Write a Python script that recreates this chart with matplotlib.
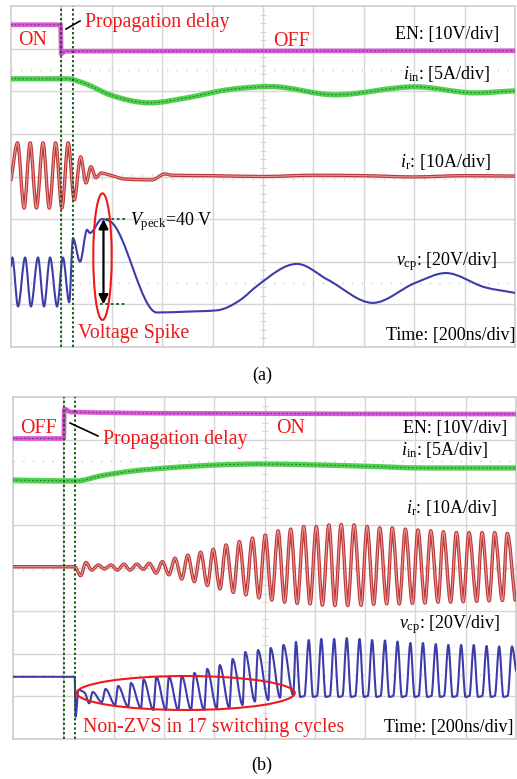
import numpy as np
import matplotlib
matplotlib.use("Agg")
import matplotlib.pyplot as plt
from matplotlib.path import Path
from matplotlib.patches import PathPatch, Ellipse, FancyArrowPatch

plt.rcParams["font.family"] = ["Liberation Serif", "DejaVu Serif"]
plt.rcParams["mathtext.fontset"] = "custom"
plt.rcParams["mathtext.rm"] = "Liberation Serif"
plt.rcParams["mathtext.it"] = "Liberation Serif:italic"

# ---------------------------------------------------------------- channels
# scope settings: volts/amps per division and zero position (divisions)
EN_SCALE, EN_ZERO = 10.0, 7.0
IIN_SCALE, IIN_ZERO = 5.0, 6.0
IR_SCALE, IR_ZERO = 10.0, 4.0
VCP_SCALE, VCP_ZERO = 20.0, 1.0
TIME_PER_DIV = 200.0  # ns

# ---------------------------------------------------------------- (a) ON -> OFF
en_a_t = [0, 197, 199, 215, 2000]
en_a_v = [5.6, 5.6, -1.2, -0.6, -0.5]

iin_a_t = [0, 222, 286, 393, 552, 698, 857, 1030, 1286, 1603, 1841, 2000]
iin_a_v = [1.46, 1.46, 0.99, -0.42, -1.36, -0.77, 0.16, 0.55, -0.42, 0.52, -0.19, 0.05]

ir_a_t = [0, 26, 52, 76, 101, 127, 152, 177, 202, 227, 251, 276, 298, 317, 337, 357,
          400, 450, 560, 610, 640, 800, 1000, 1200, 1400, 1600, 1800, 2000]
ir_a_v = [-0.8, 7.9, -7.4, 7.9, -7.4, 7.9, -7.4, 7.9, -7.4, 7.9, -5.5, 4.6, -1.5, 2.3, -0.3, 0.8,
          0.2, -0.6, -0.8, 0.6, 0.3, 0.2, 0.0, 0.3, 0.2, -0.1, 0.2, 0.1]

vcp_a_t = [0, 5, 28, 56, 79, 107, 131, 155, 183, 206, 231, 246, 274, 302, 313, 361, 393,
           579, 700, 817, 909, 980, 1135, 1258, 1436, 1603, 1726, 1881, 2000]
vcp_a_v = [18, 22, -1, 22, -1, 22, -1, 22, -1, 22, 1, 31, 20, 35, 33.5, 40, 39,
           -3.8, -3.4, -2.8, 2, 9, 19, 11.5, 0.7, 10, 14.7, 8, 5.4]

delay_a = [198, 246]          # propagation delay cursors, ns
v_peak = 40.0                 # V
spike_base = 0.0              # V

# ---------------------------------------------------------------- (b) OFF -> ON
en_b_t = [0, 202, 204, 230, 600, 2000]
en_b_v = [0.3, 0.3, 7.2, 6.5, 6.2, 6.0]

iin_b_t = [0, 254, 346, 477, 612, 811, 974, 1372, 1638, 2000]
iin_b_v = [0.29, 0.18, 0.76, 1.35, 1.7, 2.05, 2.16, 1.93, 1.70, 1.70]

ir_b_lead_t = [0, 245]
ir_b_lead_v = [0.3, 0.3]
ir_b_peak_t = [290, 339, 390, 441, 492, 542, 594, 644, 695, 746, 796, 847, 900, 952, 1003, 1054,
               1104, 1156, 1206, 1256, 1305, 1356, 1408, 1458, 1508, 1560, 1610, 1661, 1711,
               1763, 1813, 1865, 1915, 1965]
ir_b_peak_v = [1.3, 0.7, 0.7, 0.9, 0.9, 1.1, 1.5, 2.3, 3.0, 3.7, 4.4, 5.4, 6.2, 7.0, 7.7, 8.7,
               9.1, 9.7, 9.7, 10.1, 10.2, 10.1, 9.7, 9.4, 9.4, 9.1, 8.9, 8.7, 8.5, 8.3, 8.3,
               8.3, 8.3, 8.1]
ir_b_trough_t = [269, 313, 363, 415, 465, 518, 569, 620, 671, 721, 773, 823, 876, 926, 978, 1029,
                 1080, 1130, 1181, 1230, 1280, 1331, 1384, 1434, 1486, 1536, 1588, 1638, 1690,
                 1740, 1790, 1844, 1893, 1946, 1996]
ir_b_trough_v = [-1.8, -0.5, -0.2, -0.5, -0.5, -0.3, -1.2, -1.6, -2.6, -3.2, -4.1, -4.9, -5.7,
                 -6.3, -7.0, -7.5, -8.0, -8.3, -8.4, -8.7, -8.8, -8.8, -8.7, -8.5, -8.4, -8.4,
                 -8.3, -8.2, -8.0, -8.0, -7.9, -7.8, -7.7, -7.6, -7.5]

vcp_b_lead_t = [0, 245, 249, 260, 286]
vcp_b_lead_v = [9.1, 9.1, -9.6, 2.9, 1.5]
vcp_b_peak_t = [317, 368, 418, 469, 519, 570, 620, 671, 721, 772, 822, 873, 923, 974, 1024, 1075,
                1125, 1176, 1226, 1277, 1327, 1378, 1428, 1479, 1529, 1580, 1630, 1681, 1731,
                1782, 1832, 1883, 1933, 1984]
vcp_b_peak_v = [2.0, 3.4, 4.8, 6.2, 7.8, 9.0, 9.2, 9.5, 10.9, 12.8, 14.6, 17.4, 20.7, 21.6, 22.6,
                24.0, 25.4, 26.3, 26.8, 26.8, 27.2, 26.8, 26.3, 26.1, 25.6, 24.9, 24.9, 24.4,
                24.0, 24.0, 24.0, 23.5, 23.3, 23.3]
# hard-switching dips (non-ZVS cycles)
vcp_b_dip_t = [303, 353, 406, 458, 509, 558, 608, 657, 708, 760, 810, 860, 913, 962, 1015, 1062, 1114]
vcp_b_dip_v = [-3.3, -2.8, -4.1, -4.9, -5.6, -6.4, -6.4, -6.4, -6.4, -6.4, -5.6, -5.4, -4.1,
               -2.5, -1.8, -0.7, 0.6]
# flat bottoms of the ZVS cycles
vcp_b_floor_t = [1142, 1159, 1193, 1209, 1243, 1260, 1294, 1310, 1344, 1361, 1395, 1411, 1445,
                 1462, 1496, 1512, 1546, 1563, 1597, 1613, 1647, 1664, 1698, 1714, 1748, 1765,
                 1799, 1815, 1849, 1866, 1900, 1916, 1950, 1967]
vcp_b_floor_v = [-0.3, 0.2] * 17
vcp_b_tail_t = [2000]
vcp_b_tail_v = [12.0]

delay_b = [203, 247]

# ---------------------------------------------------------------- helpers
W, H = 517, 779
fig = plt.figure(figsize=(W / 100, H / 100), dpi=100)
fig.patch.set_facecolor("white")

GRID = "#d6d6d6"
RED = "#f01818"


def axes_px(left, top, right, bottom):
    return fig.add_axes([left / W, 1 - bottom / H, (right - left) / W, (bottom - top) / H])


def merge(*pairs):
    t = np.concatenate([np.asarray(p[0], float) for p in pairs])
    v = np.concatenate([np.asarray(p[1], float) for p in pairs])
    order = np.argsort(t, kind="stable")
    return t[order], v[order]


def smooth_path(x, y):
    """Monotone cubic (monotoneX) Bezier path through the knots."""
    x = np.asarray(x, float)
    y = np.asarray(y, float)
    n = len(x)
    h = np.diff(x)
    s = np.diff(y) / h
    m = np.zeros(n)
    for k in range(1, n - 1):
        p = (s[k - 1] * h[k] + s[k] * h[k - 1]) / (h[k - 1] + h[k])
        m[k] = (np.sign(s[k - 1]) + np.sign(s[k])) * min(abs(s[k - 1]), abs(s[k]), 0.5 * abs(p))
    m[0] = s[0]
    m[-1] = s[-1]
    verts = [(x[0], y[0])]
    codes = [Path.MOVETO]
    for k in range(n - 1):
        d = h[k] / 3.0
        verts += [(x[k] + d, y[k] + d * m[k]), (x[k + 1] - d, y[k + 1] - d * m[k + 1]),
                  (x[k + 1], y[k + 1])]
        codes += [Path.CURVE4] * 3
    return Path(verts, codes)


def trace(ax, t, v, scale, zero, layers):
    y = zero + np.asarray(v, float) / scale
    path = smooth_path(t, y)
    for color, lw, ls, alpha in layers:
        ax.add_patch(PathPatch(path, fill=False, ec=color, lw=lw, ls=ls, alpha=alpha,
                               capstyle="round", joinstyle="round", zorder=3))


def scope_screen(ax):
    ax.set_xlim(0, 10 * TIME_PER_DIV)
    ax.set_ylim(0, 8)
    ax.set_xticks([])
    ax.set_yticks([])
    for sp in ax.spines.values():
        sp.set_color("#cdcdcd")
        sp.set_linewidth(1.2)
    for i in range(1, 10):
        ax.axvline(i * TIME_PER_DIV, color=GRID, lw=1.0, zorder=0)
    for j in range(1, 8):
        ax.axhline(j, color=GRID, lw=1.0, zorder=0)
    for j in (1.5, 6.5):
        ax.axhline(j, color="#c8c8c8", lw=1.0, ls=(0, (1, 6)), zorder=0)
    tx = np.arange(0, 10 * TIME_PER_DIV + 1, TIME_PER_DIV / 5)
    ax.plot(tx, np.full_like(tx, 4.0), ls="none", marker="|", ms=4, mew=0.8, color=GRID, zorder=0)
    ty = np.arange(0, 8.01, 0.2)
    ax.plot(np.full_like(ty, 5 * TIME_PER_DIV), ty, ls="none", marker="_", ms=4, mew=0.8,
            color=GRID, zorder=0)


EN_STYLE = [("#d65ad6", 3.4, "-", 1.0), ("#5c1a5c", 0.7, (0, (1, 3)), 0.8)]
IIN_STYLE = [("#4fd04f", 3.8, "-", 1.0), ("#1c4a1c", 0.7, (0, (1, 3)), 0.8)]
IR_STYLE = [("#b83838", 2.4, "-", 1.0), ("#f09090", 0.8, "-", 1.0)]
VCP_STYLE = [("#3c3caa", 1.5, "-", 1.0)]


def cursors(ax, times):
    for tc in times:
        ax.axvline(tc, color="#1e5a1e", lw=1.4, ls=(0, (1.2, 1.2)), zorder=4)


def label_px(x, y, s, **kw):
    fig.text(x / W, 1 - y / H, s, va="baseline", **kw)


# ---------------------------------------------------------------- panel (a)
ax_a = axes_px(11, 6, 515, 347)
scope_screen(ax_a)
trace(ax_a, en_a_t, en_a_v, EN_SCALE, EN_ZERO, EN_STYLE)
trace(ax_a, iin_a_t, iin_a_v, IIN_SCALE, IIN_ZERO, IIN_STYLE)
trace(ax_a, ir_a_t, ir_a_v, IR_SCALE, IR_ZERO, IR_STYLE)
trace(ax_a, vcp_a_t, vcp_a_v, VCP_SCALE, VCP_ZERO, VCP_STYLE)
cursors(ax_a, delay_a)

# voltage spike marker
t_spike = 367
y_top = VCP_ZERO + v_peak / VCP_SCALE
y_bot = VCP_ZERO + spike_base / VCP_SCALE
ax_a.add_patch(FancyArrowPatch((t_spike, y_bot), (t_spike, y_top), arrowstyle="<|-|>",
                               mutation_scale=14, color="black", lw=1.6, shrinkA=0, shrinkB=0,
                               zorder=6))
ax_a.plot([375, 452], [y_top, y_top], color="#1e5a1e", lw=1.3, ls=(0, (1.5, 1.5)), zorder=5)
ax_a.plot([355, 452], [y_bot, y_bot], color="#1e5a1e", lw=1.3, ls=(0, (1.5, 1.5)), zorder=5)
ax_a.add_patch(Ellipse((363, 2.12), 73, 2.97, fill=False, ec=RED, lw=1.5, zorder=6))

label_px(85, 27, "Propagation delay", color=RED, fontsize=14.3)
fig.add_artist(plt.Line2D([66 / W, 80 / W], [1 - 29 / H, 1 - 21 / H], color="black", lw=1.2))
label_px(18, 45, "ON", color=RED, fontsize=14.3)
label_px(273, 46, "OFF", color=RED, fontsize=14.3)
label_px(499, 39, "EN: [10V/div]", ha="right", fontsize=13)
label_px(490, 79, r"$i_{\mathrm{in}}$: [5A/div]", ha="right", fontsize=13)
label_px(491, 167, r"$i_{\mathrm{r}}$: [10A/div]", ha="right", fontsize=13)
label_px(497, 265, r"$v_{\mathrm{cp}}$: [20V/div]", ha="right", fontsize=13)
label_px(515, 340, "Time: [200ns/div]", ha="right", fontsize=13)
label_px(130, 225, r"$V_{\mathrm{peck}}$=%d V" % v_peak, fontsize=13)
label_px(78, 338, "Voltage Spike", color=RED, fontsize=14.3)
label_px(262, 380, "(a)", ha="center", fontsize=13)

# ---------------------------------------------------------------- panel (b)
ax_b = axes_px(13, 397, 516, 739)
scope_screen(ax_b)
trace(ax_b, en_b_t, en_b_v, EN_SCALE, EN_ZERO, EN_STYLE)
trace(ax_b, iin_b_t, iin_b_v, IIN_SCALE, IIN_ZERO, IIN_STYLE)
t_ir, v_ir = merge((ir_b_lead_t, ir_b_lead_v), (ir_b_peak_t, ir_b_peak_v),
                   (ir_b_trough_t, ir_b_trough_v))
trace(ax_b, t_ir, v_ir, IR_SCALE, IR_ZERO, IR_STYLE)
t_vc, v_vc = merge((vcp_b_lead_t, vcp_b_lead_v), (vcp_b_peak_t, vcp_b_peak_v),
                   (vcp_b_dip_t, vcp_b_dip_v), (vcp_b_floor_t, vcp_b_floor_v),
                   (vcp_b_tail_t, vcp_b_tail_v))
trace(ax_b, t_vc, v_vc, VCP_SCALE, VCP_ZERO, VCP_STYLE)
cursors(ax_b, delay_b)
ax_b.add_patch(Ellipse((687, 1.076), 867, 0.795, fill=False, ec=RED, lw=1.5, zorder=6))

label_px(20, 433, "OFF", color=RED, fontsize=14.3)
label_px(103, 444, "Propagation delay", color=RED, fontsize=14.3)
fig.add_artist(plt.Line2D([70 / W, 98 / W], [1 - 423 / H, 1 - 436 / H], color="black", lw=1.2))
label_px(276, 433, "ON", color=RED, fontsize=14.3)
label_px(507, 433, "EN: [10V/div]", ha="right", fontsize=13)
label_px(488, 455, r"$i_{\mathrm{in}}$: [5A/div]", ha="right", fontsize=13)
label_px(497, 513, r"$i_{\mathrm{r}}$: [10A/div]", ha="right", fontsize=13)
label_px(500, 628, r"$v_{\mathrm{cp}}$: [20V/div]", ha="right", fontsize=13)
label_px(513, 732, "Time: [200ns/div]", ha="right", fontsize=13)
label_px(83, 732, "Non-ZVS in 17 switching cycles", color=RED, fontsize=14.3)
label_px(262, 770, "(b)", ha="center", fontsize=13)

fig.savefig("out.png", dpi=100, facecolor="white")
